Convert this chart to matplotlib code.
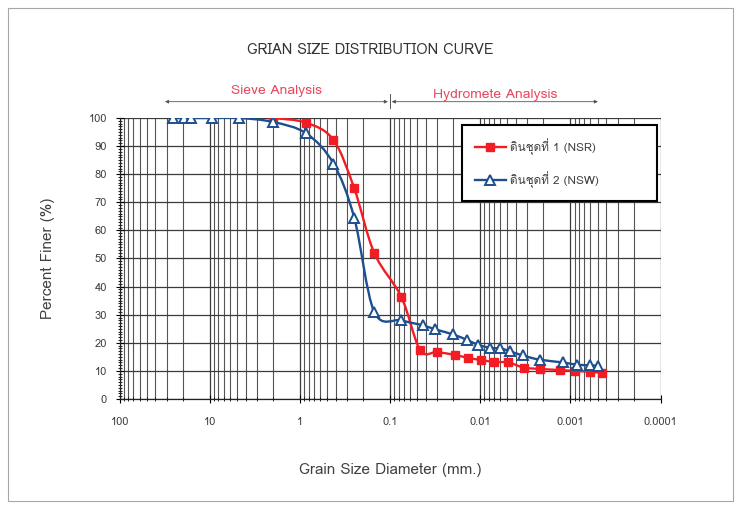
import numpy as np
import matplotlib
matplotlib.use('Agg')
import matplotlib.pyplot as plt
from matplotlib import font_manager
from matplotlib.ft2font import FT2Font
from matplotlib.path import Path
from matplotlib.patches import PathPatch, Rectangle
from matplotlib.ticker import LogLocator, MultipleLocator, FixedLocator, FixedFormatter

# Grain size data (mm) and percent finer
nsr_size = [2.0, 0.85, 0.425, 0.25, 0.15, 0.075, 0.0466, 0.0302, 0.019, 0.0137,
            0.0098, 0.0071, 0.0049, 0.0033, 0.0022, 0.0013, 0.00089, 0.00061, 0.00045]
nsr_finer = [100, 98.3, 92.2, 75, 52, 36.3, 17.5, 16.7, 15.7, 14.6,
             13.9, 13.2, 13.0, 11.2, 10.7, 10.3, 10.0, 9.7, 9.3]

nsw_size = [25.4, 19.05, 16.0, 9.5, 4.75, 2.0, 0.85, 0.425, 0.25, 0.15, 0.075,
            0.0432, 0.0318, 0.0201, 0.014, 0.0106, 0.0078, 0.006, 0.0047, 0.0034,
            0.0022, 0.0012, 0.00085, 0.0006, 0.0005]
nsw_finer = [100, 100, 100, 100, 100, 98.6, 94.5, 83.8, 64.5, 31, 28,
             26.2, 24.8, 23, 21, 19.3, 18.2, 18, 17, 15.5,
             14, 13, 12.2, 12, 11.8]

x_ticks = [100, 10, 1, 0.1, 0.01, 0.001, 0.0001]
x_ticklabels = ['100', '10', '1', '0.1', '0.01', '0.001', '0.0001']

labels = ['ดินชุดที่ 1 (NSR)', 'ดินชุดที่ 2 (NSW)']


def find_thai_font():
    # look for any installed font that carries Thai glyphs
    for f in font_manager.fontManager.ttflist:
        try:
            if 0x0E14 in FT2Font(f.fname).get_charmap():
                return f.name
        except Exception:
            pass
    return None


# Excel-like smoothed line: Catmull-Rom as cubic Bezier in (log x, y) space
def smooth_path(xs, ys):
    lx = np.log10(xs)
    ys = np.asarray(ys, dtype=float)
    n = len(lx)
    verts = [(xs[0], ys[0])]
    codes = [Path.MOVETO]
    for i in range(n - 1):
        i0 = max(i - 1, 0)
        i3 = min(i + 2, n - 1)
        c1 = (lx[i] + (lx[i + 1] - lx[i0]) / 6, ys[i] + (ys[i + 1] - ys[i0]) / 6)
        c2 = (lx[i + 1] - (lx[i3] - lx[i]) / 6, ys[i + 1] - (ys[i3] - ys[i]) / 6)
        verts += [(10 ** c1[0], c1[1]), (10 ** c2[0], c2[1]), (xs[i + 1], ys[i + 1])]
        codes += [Path.CURVE4] * 3
    return Path(verts, codes)


thai = find_thai_font()
base_font = 'DejaVu Sans'
plt.rcParams['font.family'] = [thai, base_font] if thai else [base_font]

fig = plt.figure(figsize=(7.41, 5.09), dpi=100)
ax = fig.add_axes([0.1613, 0.2161, 0.7303, 0.5521])

# chart area border
fig.patches.append(Rectangle((0.011, 0.016), 0.978, 0.968, transform=fig.transFigure,
                             fill=False, edgecolor='#a6a6a6', linewidth=0.8))

red = '#f21d24'
blue = '#1d4f8f'

ax.add_patch(PathPatch(smooth_path(nsr_size, nsr_finer), fill=False,
                       edgecolor=red, linewidth=1.7, zorder=3))
ax.plot(nsr_size, nsr_finer, linestyle='none', marker='s', markersize=6.3,
        color=red, zorder=4)
ax.add_patch(PathPatch(smooth_path(nsw_size, nsw_finer), fill=False,
                       edgecolor=blue, linewidth=1.7, zorder=5))
ax.plot(nsw_size, nsw_finer, linestyle='none', marker='^', markersize=6.8,
        markerfacecolor='white', markeredgecolor=blue, markeredgewidth=1.4, zorder=6)

# legend proxies
h1, = ax.plot([], [], color=red, linewidth=1.7, marker='s', markersize=6.3)
h2, = ax.plot([], [], color=blue, linewidth=1.7, marker='^', markersize=6.8,
              markerfacecolor='white', markeredgecolor=blue, markeredgewidth=1.4)
leg = ax.legend([h1, h2], labels, loc='upper left',
                bbox_to_anchor=(0.633, 0.72, 0.3605, 0.255), mode='expand',
                fontsize=8.5, frameon=True, fancybox=False, framealpha=1,
                handlelength=2.6, borderpad=1.1, labelspacing=1.4,
                handletextpad=0.4, borderaxespad=0)
leg.get_frame().set_edgecolor('black')
leg.get_frame().set_linewidth(1.5)
leg.set_zorder(10)
for t in leg.get_texts():
    t.set_color('#404040')

ax.set_xscale('log')
ax.set_xlim(100, 0.0001)
ax.set_ylim(0, 100)

ax.xaxis.set_major_locator(FixedLocator(x_ticks))
ax.xaxis.set_major_formatter(FixedFormatter(x_ticklabels))
ax.xaxis.set_minor_locator(LogLocator(base=10, subs=np.arange(2, 10), numticks=20))
ax.xaxis.set_minor_formatter(plt.NullFormatter())
ax.yaxis.set_major_locator(MultipleLocator(10))
ax.yaxis.set_minor_locator(MultipleLocator(1))

ax.grid(which='major', color='#3a3a3a', linewidth=0.9)
ax.grid(which='minor', axis='x', color='#555555', linewidth=0.8)
ax.set_axisbelow(True)

ax.tick_params(which='major', direction='inout', length=6, width=0.8,
               labelsize=8, labelcolor='#404040')
ax.tick_params(axis='x', which='major', pad=10)
ax.tick_params(axis='y', which='major', pad=6)
ax.tick_params(which='minor', direction='inout', length=3, width=0.6)
for s in ['top', 'right']:
    ax.spines[s].set_visible(False)
for s in ['left', 'bottom']:
    ax.spines[s].set_color('#222222')
    ax.spines[s].set_linewidth(0.9)

ax.set_ylabel('Percent Finer (%)', fontsize=11, color='#404040', labelpad=24)
ax.set_xlabel('Grain Size Diameter (mm.)', fontsize=11, color='#404040', labelpad=26)
fig.text(0.5, 0.902, 'GRIAN SIZE DISTRIBUTION CURVE', ha='center', va='center',
         fontsize=10.5, color='#333333')

# Sieve / hydrometer range arrows above the plot
pink = '#e8475f'
ax.annotate('', xy=(0.084, 1.058), xytext=(0.496, 1.058), xycoords='axes fraction',
            arrowprops=dict(arrowstyle='<|-|>', color='#555555', lw=0.6,
                            mutation_scale=5, shrinkA=0, shrinkB=0))
ax.annotate('', xy=(0.503, 1.058), xytext=(0.884, 1.058), xycoords='axes fraction',
            arrowprops=dict(arrowstyle='<|-|>', color='#555555', lw=0.6,
                            mutation_scale=5, shrinkA=0, shrinkB=0))
ax.plot([0.4995, 0.4995], [1.035, 1.085], transform=ax.transAxes, color='#555555',
        lw=0.7, clip_on=False)
ax.text(0.29, 1.075, 'Sieve Analysis', transform=ax.transAxes, ha='center',
        va='bottom', fontsize=10, color=pink)
ax.text(0.695, 1.062, 'Hydromete Analysis', transform=ax.transAxes, ha='center',
        va='bottom', fontsize=10, color=pink)

fig.savefig('out.png', dpi=100)
